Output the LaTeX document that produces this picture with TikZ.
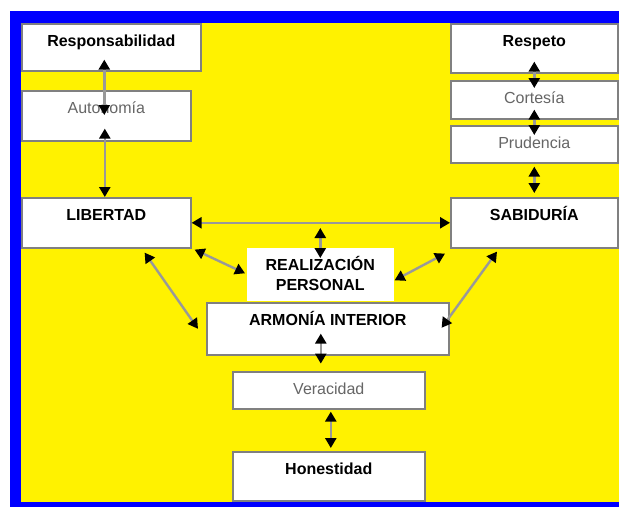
\documentclass[tikz,border=0pt]{standalone}
\usepackage{fontspec}
\setmainfont{Liberation Sans}
\usetikzlibrary{calc,arrows.meta}

\begin{document}
\begin{tikzpicture}[x=1pt, y=-1pt,
		caja/.style={draw=black!50, line width=1.6pt, fill=white, anchor=north west,
			inner sep=0pt, text height=23pt, font=\fontsize{16}{20}\selectfont},
		fuerte/.style={caja, font=\bfseries\fontsize{16}{20}\selectfont},
		suave/.style={caja, text=black!60},
		flecha/.style={draw=black!40, line width=2.4pt,
			{Triangle[black,length=10pt,width=11pt]}-{Triangle[black,length=10pt,width=11pt]}}]
		%%%%% START %%%%%
		
		\fill[white] (0, 0) rectangle (619, 507);
		\fill[blue] (10, 11) rectangle (619, 507);
		\fill[yellow] (21, 23) rectangle (619, 502);
		
		% left column
		\node[fuerte, minimum width=179pt, text depth=24pt] (resp) at (21, 23) {Responsabilidad};
		\node[suave, minimum width=169pt, text depth=27pt] (auto) at (21, 90) {Autonomía};
		\node[fuerte, minimum width=169pt, text depth=27pt] (lib) at (21, 197) {LIBERTAD};
		
		% right column
		\node[fuerte, minimum width=167pt, text depth=26pt] (resq) at (450, 23) {Respeto};
		\node[suave, minimum width=167pt, text depth=15pt] (cort) at (450, 80) {Cortesía};
		\node[suave, minimum width=167pt, text depth=14pt] (prud) at (450, 125) {Prudencia};
		\node[fuerte, minimum width=167pt, text depth=27pt] (sab) at (450, 197) {SABIDURÍA};
		
		% middle
		\node[fuerte, draw=none, minimum width=147pt, text height=43pt, text depth=10pt, align=center] (real) at (246, 247) {REALIZACIÓN\\PERSONAL};
		\node[fuerte, minimum width=242pt, text depth=29pt] (arm) at (206, 302) {ARMONÍA INTERIOR};
		\node[suave, minimum width=192pt, text depth=14pt] (ver) at (232, 371) {Veracidad};
		\node[fuerte, minimum width=192pt, text depth=26pt] (hon) at (232, 451) {Honestidad};
		
		% arrows
		\draw[flecha] ($(resp.south)+(-7, -12)$) -- ($(auto.north)+(-2, 25)$);
		\draw[flecha] ($(auto.south)+(-1.5, -13)$) -- ($(lib.north)+(-1.5, 0)$);
		
		\draw[flecha] ($(resq.south)+(0, -12)$) -- ($(cort.north)+(0, 8)$);
		\draw[flecha] ($(cort.south)+(0, -10)$) -- ($(prud.north)+(0, 10)$);
		\draw[flecha] ($(prud.south)+(0, 3)$) -- ($(sab.north)+(0, -4)$);
		
		\draw[flecha] (lib.east) -- (sab.west);
		\draw[flecha] ($(real.north)+(0, -19)$) -- ($(real.north)+(0, 11)$);
		
		\draw[flecha] ($(lib.south east)+(3, 1)$) -- ($(real.west)+(-1, -1)$);
		\draw[flecha] ($(sab.south west)+(-5, 5)$) -- ($(real.east)+(0, 6)$);
		\draw[flecha] ($(lib.south east)+(-47, 4)$) -- ($(arm.west)+(-8, 0)$);
		\draw[flecha] ($(sab.south west)+(47, 3)$) -- ($(arm.east)+(-8, -1)$);
		
		\draw[flecha] ($(arm.south)+(-7, -22)$) -- ($(arm.south)+(-7, 8)$);
		\draw[flecha] ($(ver.south)+(2, 2)$) -- ($(hon.north)+(2, -3)$);
		
		%%%%% END %%%%%
	\end{tikzpicture}
\end{document}
